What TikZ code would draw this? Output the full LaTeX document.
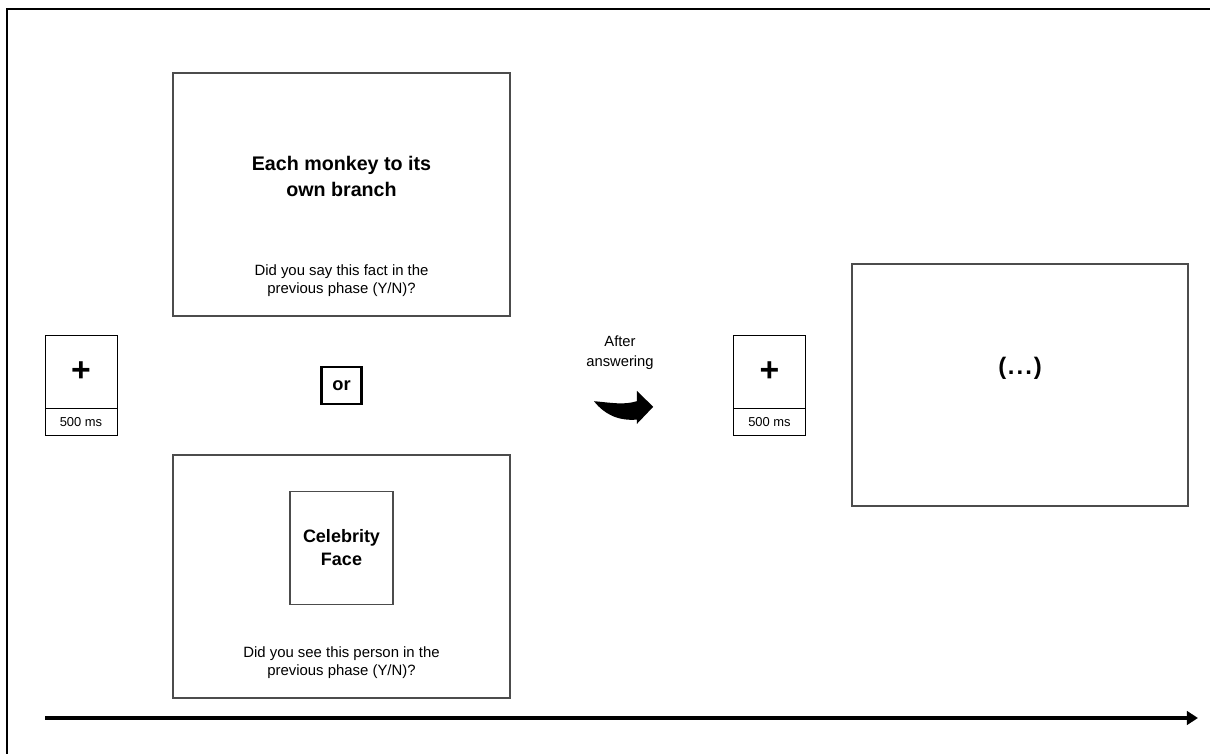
\documentclass[tikz,border=0pt]{standalone}
\usepackage{fontspec}
\setmainfont{Liberation Sans}
\usetikzlibrary{arrows.meta,positioning}

\begin{document}
\begin{tikzpicture}[
  ecra/.style={draw=black!70,line width=0.8pt,inner sep=0pt,minimum width=8.425cm,minimum height=6.075cm},
  fixa/.style={draw,line width=0.7pt,inner sep=0pt,minimum width=1.8cm,minimum height=1.825cm,font=\fontsize{24}{24}\selectfont\bfseries},
  duracao/.style={draw,line width=0.7pt,inner sep=0pt,minimum width=1.8cm,minimum height=0.675cm,font=\fontsize{9.2}{10}\selectfont},
  titulo/.style={align=center,font=\fontsize{14}{18.5}\selectfont\bfseries},
  pergunta/.style={align=center,font=\fontsize{10.6}{12.8}\selectfont},
  rotulo/.style={align=center,font=\fontsize{10.5}{14.2}\selectfont},
  seta/.style={-{Triangle[length=2.8mm,width=3.4mm]},line width=2.8pt}
]
\useasboundingbox (0,0) rectangle (30.25,18.85);
\draw[line width=1.4pt] (0.175,0) -- (0.175,18.625) -- (30.25,18.625);

\node[fixa] (fix1) at (2.025,9.5625) {+};
\node[duracao,below=0cm of fix1] (dur1) {500 ms};

\node[ecra] (facto) at (8.5375,13.9875) {};
\node[titulo] (frase) at ([yshift=-2.6cm]facto.north) {Each monkey to its\\own branch};
\node[pergunta] (pfacto) at ([yshift=0.9cm]facto.south)
  {Did you say this fact in the\\previous phase (Y/N)?};

\node[draw,line width=1.9pt,inner sep=0pt,minimum width=1cm,minimum height=0.925cm,
  font=\fontsize{13}{13}\selectfont\bfseries] (ou) at (8.5375,9.2125) {or};

\node[ecra] (rosto) at (8.5375,4.4375) {};
\node[draw=black!70,line width=0.8pt,inner sep=0pt,minimum width=2.575cm,minimum height=2.825cm,
  align=center,font=\fontsize{12.8}{16.4}\selectfont\bfseries] (celeb)
  at ([yshift=-2.3375cm]rosto.north) {Celebrity\\Face};
\node[pergunta] (prosto) at ([yshift=0.9cm]rosto.south)
  {Did you see this person in the\\previous phase (Y/N)?};

\node[rotulo] (depois) at (15.5,10.025) {After\\answering};
\fill (14.85,8.82) .. controls (15.3,8.78) and (15.6,8.72) .. (15.92,8.82)
  -- (15.92,9.08) -- (16.33,8.68) -- (15.92,8.25) -- (15.92,8.36)
  .. controls (15.45,8.32) and (15.1,8.5) .. cycle;

\node[fixa] (fix2) at (19.2375,9.5625) {+};
\node[duracao,below=0cm of fix2] (dur2) {500 ms};

\node[ecra,minimum width=8.4cm,minimum height=6.05cm] (seguinte) at (25.5,9.225) {};
\node[font=\fontsize{17}{17}\selectfont\bfseries] (etc) at ([yshift=-2.625cm]seguinte.north)
  {(\kern1.2pt.\kern1.5pt.\kern1.5pt.\kern1.2pt)};

\coordinate (t0) at (1.125,0.9);
\coordinate (t1) at (29.95,0.9);
\draw[seta] (t0) -- (t1);
\end{tikzpicture}
\end{document}
